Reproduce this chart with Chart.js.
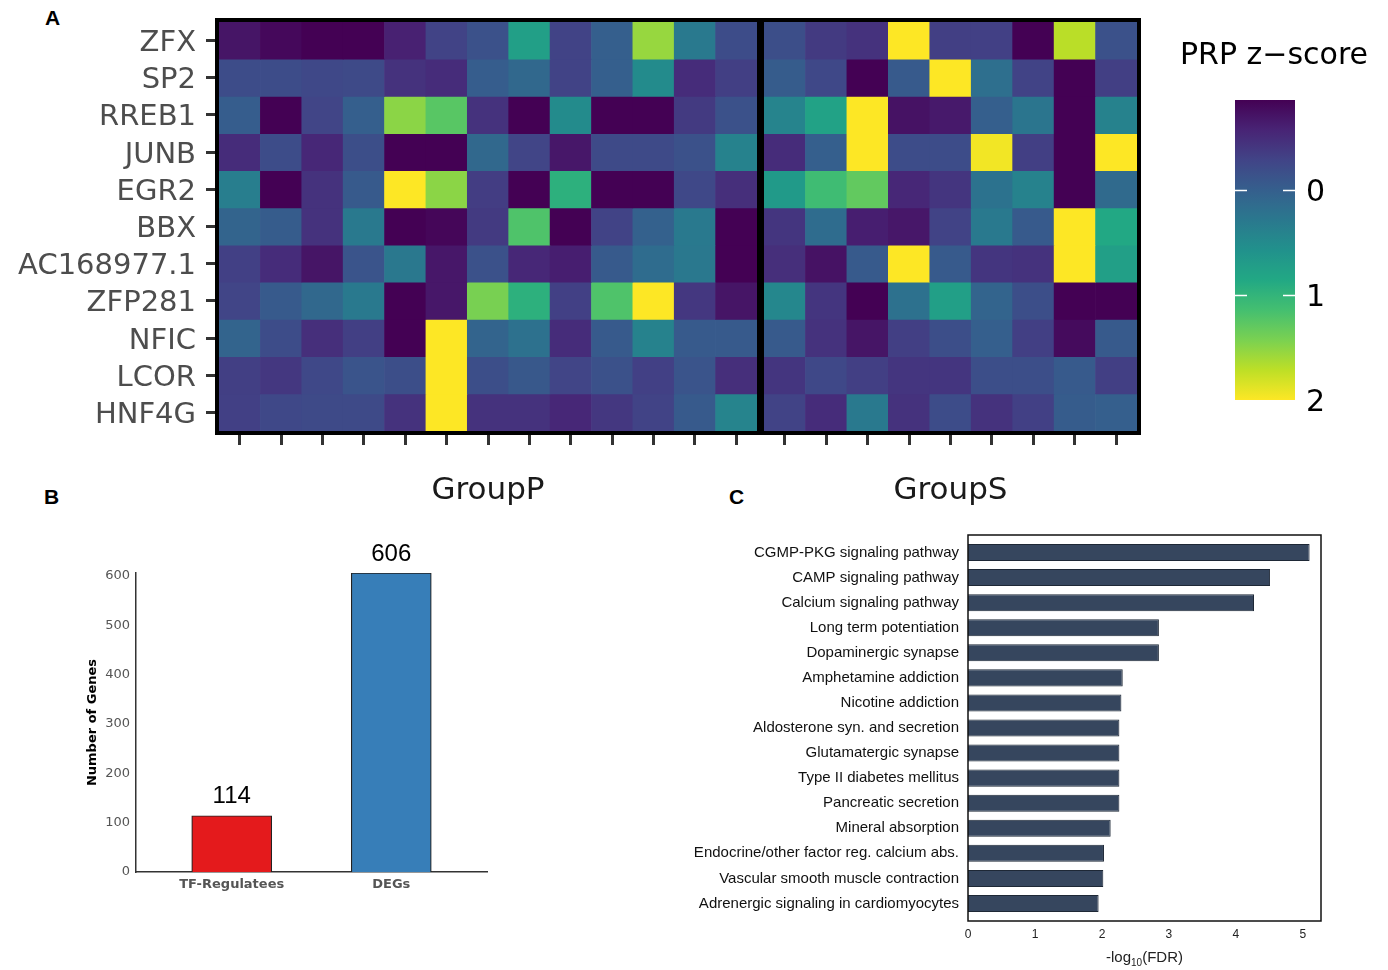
<!DOCTYPE html>
<html>
<head>
<meta charset="utf-8">
<script src="https://cdn.jsdelivr.net/npm/chart.js@4.4.1/dist/chart.umd.min.js"></script>
<style>
body { margin: 0; background: #fff; }
#fig { position: relative; width: 1388px; height: 970px; overflow: hidden; background: #fff; }
canvas { position: absolute; }
.tag { position: absolute; font: bold 21px "Liberation Sans", Arial, sans-serif; color: #000; }
</style>
</head>
<body>
<div id="fig">
  <div class="tag" style="left:45px;top:6px">A</div>
  <div class="tag" style="left:44px;top:485px">B</div>
  <div class="tag" style="left:729px;top:485px">C</div>
  <canvas id="heatP" width="762" height="510" style="left:0;top:0"></canvas>
  <canvas id="heatS" width="420" height="510" style="left:740px;top:0"></canvas>
  <canvas id="cbar" width="228" height="430" style="left:1160px;top:0"></canvas>
  <canvas id="genes" width="470" height="400" style="left:40px;top:500px"></canvas>
  <canvas id="kegg" width="708" height="440" style="left:680px;top:530px"></canvas>
</div>
<script>
// ---- data ----
const rows = ['ZFX', 'SP2', 'RREB1', 'JUNB', 'EGR2', 'BBX', 'AC168977.1', 'ZFP281', 'NFIC', 'LCOR', 'HNF4G']
const colsP = ['P1', 'P2', 'P3', 'P4', 'P5', 'P6', 'P7', 'P8', 'P9', 'P10', 'P11', 'P12', 'P13']
const colsS = ['S1', 'S2', 'S3', 'S4', 'S5', 'S6', 'S7', 'S8', 'S9']

// PRP z-scores, one row per TF
const zP = [
    [-0.7, -0.8, -0.86, -0.86, -0.6, -0.3, -0.15, 0.75, -0.3, 0.0, 1.55, 0.3, -0.2],
    [-0.2, -0.2, -0.25, -0.22, -0.45, -0.5, -0.02, 0.1, -0.3, 0.0, 0.5, -0.5, -0.33],
    [-0.02, -0.86, -0.28, 0.0, 1.5, 1.25, -0.45, -0.86, 0.5, -0.86, -0.86, -0.38, -0.15],
    [-0.5, -0.2, -0.55, -0.18, -0.86, -0.86, 0.1, -0.28, -0.68, -0.22, -0.22, -0.15, 0.4],
    [0.35, -0.86, -0.45, -0.05, 2.0, 1.5, -0.35, -0.86, 0.95, -0.86, -0.86, -0.25, -0.48],
    [0.05, -0.03, -0.45, 0.3, -0.86, -0.82, -0.38, 1.2, -0.86, -0.3, 0.02, 0.3, -0.86],
    [-0.32, -0.5, -0.7, -0.12, 0.28, -0.68, -0.15, -0.55, -0.62, -0.05, 0.15, 0.28, -0.86],
    [-0.28, -0.05, 0.1, 0.3, -0.86, -0.68, 1.42, 0.95, -0.32, 1.2, 2.0, -0.4, -0.7],
    [0.05, -0.2, -0.48, -0.33, -0.86, 2.0, 0.05, 0.2, -0.5, -0.05, 0.4, -0.05, -0.05],
    [-0.33, -0.4, -0.25, -0.12, -0.18, 2.0, -0.18, -0.08, -0.28, -0.15, -0.32, -0.12, -0.48],
    [-0.32, -0.25, -0.22, -0.22, -0.45, 2.0, -0.45, -0.45, -0.55, -0.4, -0.3, -0.05, 0.42]
]
const zS = [
    [-0.18, -0.38, -0.45, 2.0, -0.33, -0.32, -0.86, 1.7, -0.15],
    [-0.03, -0.25, -0.86, -0.05, 2.0, 0.18, -0.3, -0.86, -0.33],
    [0.42, 0.78, 2.0, -0.72, -0.66, 0.0, 0.25, -0.86, 0.4],
    [-0.5, 0.0, 2.0, -0.2, -0.2, 1.95, -0.33, -0.86, 2.0],
    [0.68, 1.1, 1.3, -0.55, -0.42, 0.22, 0.4, -0.86, 0.12],
    [-0.42, 0.15, -0.62, -0.68, -0.3, 0.3, -0.05, 2.0, 0.85],
    [-0.48, -0.72, -0.05, 2.0, -0.05, -0.42, -0.45, 2.0, 0.75],
    [0.45, -0.42, -0.86, 0.2, 0.75, 0.05, -0.18, -0.86, -0.86],
    [-0.05, -0.45, -0.7, -0.33, -0.18, 0.0, -0.33, -0.78, -0.05],
    [-0.42, -0.25, -0.33, -0.42, -0.42, -0.18, -0.18, -0.05, -0.33],
    [-0.3, -0.5, 0.3, -0.45, -0.2, -0.45, -0.32, -0.03, 0.0]
]
const zMin = -0.86
const zMax = 2
const barTicks = [0, 1, 2]

const geneGroups = ['TF-Regulatees', 'DEGs']
const geneCounts = [114, 606]
const geneColors = ['#e41a1c', '#377eb8']
const geneTicks = [0, 100, 200, 300, 400, 500, 600]

const pathways = ['CGMP-PKG signaling pathway', 'CAMP signaling pathway', 'Calcium signaling pathway',
    'Long term potentiation', 'Dopaminergic synapse', 'Amphetamine addiction', 'Nicotine addiction',
    'Aldosterone syn. and secretion', 'Glutamatergic synapse', 'Type II diabetes mellitus',
    'Pancreatic secretion', 'Mineral absorption', 'Endocrine/other factor reg. calcium abs.',
    'Vascular smooth muscle contraction', 'Adrenergic signaling in cardiomyocytes']
const negLogFdr = [5.10, 4.51, 4.27, 2.85, 2.85, 2.31, 2.29, 2.26, 2.26, 2.26, 2.26, 2.13, 2.03, 2.02, 1.95]

// ---- helpers ----
const VIRIDIS = ['#440154', '#482475', '#414487', '#355f8d', '#2a788e', '#21918c', '#22a884', '#44bf70', '#7ad151', '#bddf26', '#fde725']
function hex2rgb(h){
    return [parseInt(h.slice(1, 3), 16), parseInt(h.slice(3, 5), 16), parseInt(h.slice(5, 7), 16)]
}
function viridis(t){
    t = Math.max(0, Math.min(1, t))
    const p = t * 10
    const i = Math.min(9, Math.floor(p))
    const f = p - i
    const a = hex2rgb(VIRIDIS[i]), b = hex2rgb(VIRIDIS[i + 1])
    const c = a.map((v, k) => Math.round(v + (b[k] - v) * f))
    return 'rgb(' + c.join(',') + ')'
}
function zColor(v){ return viridis((v - zMin) / (zMax - zMin)) }

Chart.defaults.font.family = 'DejaVu Sans'
Chart.defaults.animation = false
Chart.defaults.plugins.legend.display = false
Chart.defaults.plugins.tooltip.enabled = false

const panelBorder = {
    id: 'panelBorder',
    afterDraw(chart){
        const {ctx, chartArea: a} = chart
        ctx.save()
        ctx.strokeStyle = '#000'
        ctx.lineWidth = 4
        ctx.strokeRect(a.left - 2, a.top - 2, a.right - a.left + 4, a.bottom - a.top + 4)
        ctx.restore()
    }
}

function makeHeat(id, values, cols, title, showY, pad){
    return new Chart(id, {
        type: 'bar',
        data: {
            labels: cols,
            datasets: rows.map((r, i) => ({
                label: r,
                data: cols.map(() => [i, i + 1]),
                backgroundColor: values[i].map(zColor),
                borderWidth: 0,
                grouped: false,
                barPercentage: 1,
                categoryPercentage: 1
            }))
        },
        options: {
            responsive: false,
            devicePixelRatio: 1,
            layout: {padding: pad},
            scales: {
                x: {
                    grid: {drawOnChartArea: false, offset: false, tickLength: 14, tickWidth: 3, tickColor: '#333'},
                    border: {display: false},
                    ticks: {display: false},
                    title: {display: true, text: title, color: '#1a1a1a', font: {size: 31}, padding: {top: 0, bottom: 0}},
                    afterFit: s => { s.height = 79 }
                },
                y: {
                    display: showY,
                    reverse: true,
                    min: 0,
                    max: rows.length,
                    afterBuildTicks: s => { s.ticks = rows.map((r, i) => ({value: i + 0.5})) },
                    ticks: {autoSkip: false, color: '#4d4d4d', font: {size: 29, lineHeight: 0.8}, padding: 10,
                        labelOffset: 3, callback: (v, i) => rows[i]},
                    grid: {drawOnChartArea: false, tickLength: 13, tickWidth: 3, tickColor: '#333'},
                    border: {display: false},
                    afterFit: s => { s.width = showY ? 219 : 0 }
                }
            }
        },
        plugins: [panelBorder]
    })
}

makeHeat('heatP', zP, colsP, 'GroupP', true, {top: 22, right: 5, left: 0, bottom: 0})
makeHeat('heatS', zS, colsS, 'GroupS', false, {top: 22, right: 23, left: 24, bottom: 0})

// colour bar legend
const colorbar = {
    id: 'colorbar',
    afterDraw(chart){
        const {ctx, chartArea: a, scales: {y}} = chart
        ctx.save()
        const g = ctx.createLinearGradient(0, y.getPixelForValue(zMin), 0, y.getPixelForValue(zMax))
        for (let k = 0; k <= 20; k++){
            g.addColorStop(k / 20, viridis(k / 20))
        }
        ctx.fillStyle = g
        ctx.fillRect(a.left, a.top, a.right - a.left, a.bottom - a.top)
        ctx.strokeStyle = '#fff'
        ctx.lineWidth = 1.5
        barTicks.slice(0, 2).forEach(v => {
            const yy = Math.round(y.getPixelForValue(v)) + 0.5
            ctx.beginPath()
            ctx.moveTo(a.left, yy); ctx.lineTo(a.left + 12, yy)
            ctx.moveTo(a.right - 12, yy); ctx.lineTo(a.right, yy)
            ctx.stroke()
        })
        ctx.fillStyle = '#000'
        ctx.font = '30px "DejaVu Sans"'
        ctx.textAlign = 'center'
        ctx.textBaseline = 'middle'
        ctx.fillText('PRP z\u2212score', 114, 56)
        ctx.restore()
    }
}
new Chart('cbar', {
    type: 'bar',
    data: {labels: [], datasets: []},
    options: {
        responsive: false,
        devicePixelRatio: 1,
        layout: {padding: {left: 75, top: 100, bottom: 30}},
        scales: {
            x: {display: false},
            y: {
                position: 'right',
                reverse: true,
                min: zMin,
                max: zMax,
                afterBuildTicks: s => { s.ticks = barTicks.map(v => ({value: v})) },
                ticks: {color: '#000', font: {size: 30}, padding: 11, labelOffset: 3},
                grid: {display: false, drawTicks: false},
                border: {display: false},
                afterFit: s => { s.width = 93 }
            }
        }
    },
    plugins: [colorbar]
})

// panel B
const barValueLabels = {
    id: 'barValueLabels',
    afterDatasetsDraw(chart){
        const {ctx} = chart
        const meta = chart.getDatasetMeta(0)
        ctx.save()
        ctx.fillStyle = '#000'
        ctx.font = '24px "Liberation Sans"'
        ctx.textAlign = 'center'
        ctx.textBaseline = 'bottom'
        meta.data.forEach((bar, i) => {
            ctx.fillText(String(geneCounts[i]), bar.x, bar.y - 7)
        })
        ctx.restore()
    }
}
new Chart('genes', {
    type: 'bar',
    data: {
        datasets: [{
            data: geneGroups.map((g, i) => ({x: i, y: geneCounts[i]})),
            backgroundColor: geneColors,
            borderColor: '#222',
            borderWidth: 1.2,
            barThickness: 80
        }]
    },
    options: {
        responsive: false,
        devicePixelRatio: 1,
        layout: {padding: {left: 40, right: 23, top: 73, bottom: 0}},
        scales: {
            x: {
                type: 'linear',
                offset: false,
                min: -0.6,
                max: 1.6,
                afterBuildTicks: s => { s.ticks = geneGroups.map((g, i) => ({value: i})) },
                ticks: {color: '#555', font: {size: 13, weight: 'bold'}, padding: 5,
                    callback: (v, i) => geneGroups[i]},
                grid: {display: false, drawTicks: false, offset: false},
                border: {display: true, color: '#333', width: 1.5},
                afterFit: s => { s.height = 28 }
            },
            y: {
                min: 0,
                max: 606,
                afterBuildTicks: s => { s.ticks = geneTicks.map(v => ({value: v})) },
                ticks: {color: '#555', font: {size: 13}, padding: 6},
                grid: {display: false, drawTicks: false},
                border: {display: true, color: '#333', width: 1.5},
                title: {display: true, text: 'Number of Genes', color: '#000',
                    font: {size: 13, weight: 'bold'}, padding: {top: 5, bottom: 0}},
                afterFit: s => { s.width = 56 }
            }
        }
    },
    plugins: [barValueLabels]
})

// panel C
const keggFrame = {
    id: 'keggFrame',
    afterDraw(chart){
        const {ctx, chartArea: a} = chart
        ctx.save()
        ctx.strokeStyle = '#111'
        ctx.lineWidth = 1.5
        ctx.strokeRect(a.left, a.top - 5, a.right - a.left, a.bottom - a.top + 10)
        // x title with subscript
        const cx = (a.left + a.right) / 2
        const yb = 432
        ctx.fillStyle = '#222'
        ctx.textBaseline = 'alphabetic'
        ctx.textAlign = 'left'
        const big = '15px "Liberation Sans"', small = '10px "Liberation Sans"'
        ctx.font = big
        const w1 = ctx.measureText('-log').width, w3 = ctx.measureText('(FDR)').width
        ctx.font = small
        const w2 = ctx.measureText('10').width
        let x = cx - (w1 + w2 + w3) / 2
        ctx.font = big
        ctx.fillText('-log', x, yb)
        x += w1
        ctx.font = small
        ctx.fillText('10', x, yb + 4)
        x += w2
        ctx.font = big
        ctx.fillText('(FDR)', x, yb)
        ctx.restore()
    }
}
new Chart('kegg', {
    type: 'bar',
    data: {
        labels: pathways,
        datasets: [{
            data: negLogFdr,
            backgroundColor: '#36465e',
            borderColor: '#1e2836',
            borderWidth: 1,
            barPercentage: 0.68,
            categoryPercentage: 1
        }]
    },
    options: {
        indexAxis: 'y',
        responsive: false,
        devicePixelRatio: 1,
        layout: {padding: {left: 0, right: 67, top: 10, bottom: 0}},
        scales: {
            x: {
                min: 0,
                max: 5.27,
                ticks: {stepSize: 1, includeBounds: false, color: '#222',
                    font: {size: 12, family: 'Liberation Sans'}, padding: 11},
                grid: {display: false, drawTicks: false},
                border: {display: false},
                afterFit: s => { s.height = 54 }
            },
            y: {
                ticks: {autoSkip: false, color: '#111', font: {size: 15, family: 'Liberation Sans', lineHeight: 1}, padding: 0},
                grid: {display: true, drawOnChartArea: false, drawTicks: true, tickLength: 9, tickColor: 'rgba(0,0,0,0)', offset: false},
                border: {display: false},
                afterFit: s => { s.width = 288 }
            }
        }
    },
    plugins: [keggFrame]
})
</script>
</body>
</html>
